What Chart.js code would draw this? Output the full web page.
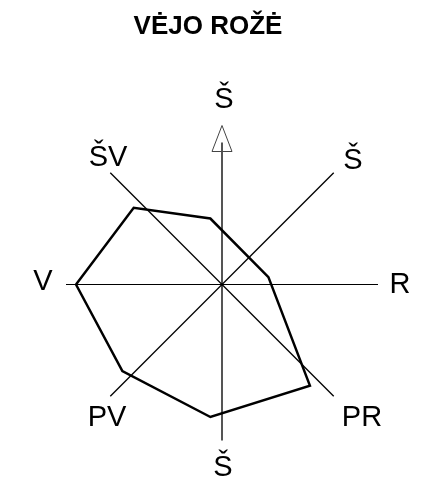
<!DOCTYPE html>
<html lang="lt">
<head>
    <meta charset="UTF-8">
    <title>Vėjo rožė</title>
    <style>
        body { margin: 0; background: #fff; }
        canvas { display: block; }
    </style>
    <script src="https://cdn.jsdelivr.net/npm/chart.js"></script>
</head>
<body>
    <canvas id="windRose" width="430" height="483"></canvas>

    <script>
        // krypčių užrašai (kaip paveiksle)
        const directionLabels = ['Š', 'Š', 'R', 'PR', 'Š', 'PV', 'V', 'ŠV'];
        const axisBearings = [0, 45, 90, 135, 180, 225, 270, 315];

        // vėjo rožės viršūnės: azimutas (laipsniais nuo šiaurės) ir ilgis
        const roseBearings = [270, 311, 350, 81, 139, 185, 229];
        const roseValues = [146, 117, 67, 47, 134, 133, 132];

        const axisLength = 158;
        const scaleMax = 170;

        function polar(bearing, r) {
            const a = bearing * Math.PI / 180;
            return { x: r * Math.sin(a), y: r * Math.cos(a) };
        }

        const rosePoints = roseBearings.map((b, i) => polar(b, roseValues[i]));
        rosePoints.push(rosePoints[0]);

        function axisLine(bearing, len, color, width) {
            const opp = (bearing + 180) % 360;
            return {
                data: [polar(bearing, len), polar(opp, len)],
                showLine: true,
                borderColor: color,
                borderWidth: width,
                pointRadius: 0,
                fill: false
            };
        }

        const labelPlugin = {
            id: 'labels',
            afterDraw(chart) {
                const ctx = chart.ctx;
                const xs = chart.scales.x, ys = chart.scales.y;
                const cx = xs.getPixelForValue(0), cy = ys.getPixelForValue(0);
                ctx.save();
                ctx.fillStyle = '#000';
                ctx.textAlign = 'center';
                ctx.textBaseline = 'alphabetic';
                ctx.font = 'bold 26px "Liberation Sans", Arial, sans-serif';
                ctx.fillText('VĖJO ROŽĖ', 208, 34);

                // šiaurės rodyklė
                ctx.strokeStyle = '#444';
                ctx.lineWidth = 1;
                ctx.fillStyle = '#fff';
                ctx.beginPath();
                ctx.moveTo(cx, cy - 159);
                ctx.lineTo(cx - 10, cy - 133);
                ctx.lineTo(cx + 10, cy - 133);
                ctx.closePath();
                ctx.fill();
                ctx.stroke();
                ctx.strokeStyle = '#555';
                ctx.lineWidth = 2;
                ctx.beginPath();
                ctx.moveTo(cx, cy - 133);
                ctx.lineTo(cx, cy - 142);
                ctx.stroke();

                // krypčių užrašai
                const offsets = [
                    [2, -177], [131, -116], [178, 8], [140, 141],
                    [1, 191], [-115, 141], [-179, 5], [-114, -119]
                ];
                ctx.fillStyle = '#000';
                ctx.font = '29px "Liberation Sans", Arial, sans-serif';
                directionLabels.forEach((t, i) => {
                    ctx.fillText(t, Math.round(cx) + offsets[i][0], Math.round(cy) + offsets[i][1]);
                });
                ctx.restore();
            }
        };

        window.onload = function() {
            const ctx = document.getElementById('windRose').getContext('2d');
            new Chart(ctx, {
                type: 'scatter',
                data: {
                    datasets: [
                        {
                            data: rosePoints,
                            showLine: true,
                            borderColor: '#000',
                            borderWidth: 2.5,
                            borderJoinStyle: 'miter',
                            pointRadius: 0,
                            tension: 0,
                            fill: false
                        },
                        axisLine(axisBearings[1], axisLength, '#000', 1.3),
                        axisLine(axisBearings[7], axisLength, '#000', 1.3),
                        axisLine(axisBearings[2], 156, '#000', 1),
                        {
                            data: [polar(0, 142), polar(180, 156)],
                            showLine: true,
                            borderColor: '#555',
                            borderWidth: 2,
                            pointRadius: 0,
                            fill: false
                        }
                    ]
                },
                options: {
                    responsive: false,
                    animation: false,
                    layout: { padding: { left: 52, right: 38, top: 114, bottom: 29 } },
                    plugins: {
                        legend: { display: false },
                        tooltip: { enabled: false }
                    },
                    scales: {
                        x: { display: false, min: -scaleMax, max: scaleMax },
                        y: { display: false, min: -scaleMax + 0.5, max: scaleMax + 0.5 }
                    },
                    clip: false
                },
                plugins: [labelPlugin]
            });
        };
    </script>
</body>
</html>
